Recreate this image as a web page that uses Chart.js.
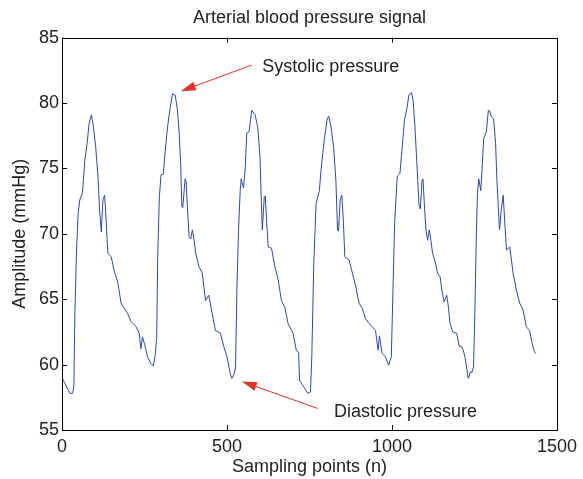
<!DOCTYPE html>
<html>
<head>
<meta charset="utf-8">
<script src="https://cdn.jsdelivr.net/npm/chart.js@4.4.1/dist/chart.umd.min.js"></script>
<style>
  html, body { margin: 0; padding: 0; background: #fff; }
  #wrap { width: 583px; height: 479px; position: relative; }
</style>
</head>
<body>
<div id="wrap"><canvas id="c"></canvas></div>
<script>
// ---- Data ----
const chartTitle = 'Arterial blood pressure signal';
const xAxisLabel = 'Sampling points (n)';
const yAxisLabel = 'Amplitude (mmHg)';
const xTicks = [0, 500, 1000, 1500];
const yTicks = [55, 60, 65, 70, 75, 80, 85];

const sampleIdx = [
  0, 8, 16, 24, 32, 36, 39, 44, 49, 54, 62, 69, 76, 82, 89, 94, 102, 109, 114, 119,
  124, 129, 132, 139, 149, 159, 169, 179, 189, 199, 209, 224, 234, 239, 244, 252, 259, 269, 277, 283,
  287, 290, 295, 300, 307, 313, 320, 327, 335, 343, 350, 355, 360, 363, 366, 373, 376, 380, 385, 390,
  395, 400, 405, 415, 425, 435, 445, 455, 465, 480, 490, 500, 510, 515, 522, 526, 530, 535, 540, 543,
  550, 555, 560, 567, 575, 585, 593, 600, 603, 607, 613, 616, 620, 625, 635, 645, 655, 665, 675, 685,
  700, 710, 717, 720, 730, 745, 753, 757, 763, 770, 780, 785, 795, 803, 808, 815, 823, 830, 835, 838,
  843, 848, 853, 857, 870, 880, 890, 900, 910, 920, 930, 940, 950, 958, 962, 966, 970, 980, 990, 998,
  1003, 1008, 1016, 1024, 1031, 1038, 1046, 1051, 1059, 1064, 1069, 1074, 1078, 1082, 1086, 1091, 1094, 1098, 1103, 1108,
  1113, 1118, 1123, 1131, 1138, 1146, 1151, 1158, 1166, 1171, 1176, 1184, 1196, 1204, 1210, 1216, 1221, 1226, 1231, 1238,
  1242, 1247, 1250, 1253, 1256, 1259, 1263, 1269, 1274, 1278, 1286, 1292, 1296, 1301, 1308, 1314, 1318, 1322, 1326, 1331,
  1337, 1342, 1347, 1357, 1367, 1377, 1387, 1397, 1407, 1417, 1425, 1432, 1437
];
const amplitude = [
  59.0, 58.6, 58.2, 57.8, 57.8, 58.3, 63.9, 68.75, 71.6, 72.6, 73.1, 75.6, 76.9, 78.4, 79.1, 78.4, 76.65, 74.4, 71.8, 70.15,
  72.6, 72.95, 71.8, 68.5, 68.25, 67.1, 66.3, 64.7, 64.3, 63.9, 63.3, 62.9, 62.4, 61.2, 62.1, 61.4, 60.6, 60.1, 59.9, 60.85,
  62.1, 68.25, 72.8, 74.5, 74.55, 76.4, 78.2, 79.5, 80.7, 80.6, 79.45, 77.7, 75.1, 72.1, 72.0, 74.2, 74.0, 72.1, 69.8, 69.6,
  70.3, 69.6, 68.5, 67.5, 67.0, 64.9, 65.3, 63.9, 62.6, 62.4, 61.4, 60.6, 59.3, 58.95, 59.3, 59.8, 65.7, 70.3, 73.3, 74.2,
  73.5, 74.9, 77.7, 77.8, 79.45, 79.1, 78.2, 75.9, 73.3, 70.3, 72.8, 72.9, 71.0, 69.0, 68.9, 67.5, 66.5, 64.9, 64.4, 63.15,
  62.4, 61.1, 60.9, 58.8, 58.4, 57.8, 57.9, 60.6, 67.7, 72.3, 73.3, 74.9, 77.2, 78.7, 79.0, 78.2, 76.65, 74.1, 70.3, 70.2,
  72.6, 72.95, 70.8, 68.25, 68.0, 67.0, 66.0, 64.7, 64.3, 63.5, 63.15, 62.9, 62.6, 61.1, 62.2, 61.5, 60.85, 60.6, 59.95, 60.6,
  65.7, 70.8, 74.4, 74.6, 76.65, 78.7, 79.7, 80.6, 80.8, 80.2, 78.4, 76.1, 74.1, 72.2, 71.9, 74.1, 74.2, 72.3, 70.3, 69.5,
  70.3, 69.5, 68.5, 67.85, 67.0, 66.7, 65.7, 64.8, 65.3, 64.4, 63.15, 62.5, 62.4, 61.4, 61.4, 61.1, 60.6, 59.8, 58.95, 59.45,
  59.4, 59.8, 62.6, 66.5, 70.3, 73.1, 74.2, 73.3, 75.4, 77.3, 77.8, 79.45, 79.4, 78.95, 78.8, 76.9, 74.1, 72.1, 70.3, 71.8,
  72.95, 70.8, 68.75, 69.0, 67.0, 65.7, 64.7, 64.2, 62.9, 62.6, 61.6, 60.95, 60.85
];

// Annotations (data units): label position, arrow tail, arrow tip
const annoText = ['Systolic pressure', 'Diastolic pressure'];
const annoTextPos = [[607, 82.75], [824, 56.37]];
const annoArrowFrom = [[575, 82.9], [775, 56.65]];
const annoArrowTo = [[360, 80.9], [545, 58.7]];

// ---- Chart ----
const FONT = '"Liberation Sans", Arial, Helvetica, sans-serif';
const TEXT = '#222222';
const LINE = '#2b4ba8';
const RED = '#e2322b';

const points = sampleIdx.map((n, i) => ({ x: n, y: amplitude[i] }));

const boxPlugin = {
  id: 'boxAndTicks',
  afterDatasetsDraw(chart) {
    const { ctx, chartArea: a, scales: { x, y } } = chart;
    ctx.save();
    ctx.strokeStyle = '#000';
    ctx.lineWidth = 1;
    ctx.strokeRect(Math.round(a.left) + 0.5, Math.round(a.top) + 0.5,
                   Math.round(a.right - a.left), Math.round(a.bottom - a.top));
    const tl = 5;
    ctx.beginPath();
    xTicks.forEach(v => {
      const px = Math.round(x.getPixelForValue(v)) + 0.5;
      ctx.moveTo(px, a.bottom); ctx.lineTo(px, a.bottom - tl);
      ctx.moveTo(px, a.top); ctx.lineTo(px, a.top + tl);
    });
    yTicks.forEach(v => {
      const py = Math.round(y.getPixelForValue(v)) + 0.5;
      ctx.moveTo(a.left, py); ctx.lineTo(a.left + tl, py);
      ctx.moveTo(a.right, py); ctx.lineTo(a.right - tl, py);
    });
    ctx.stroke();

    // annotations
    ctx.font = '18px ' + FONT;
    ctx.textBaseline = 'middle';
    ctx.textAlign = 'left';
    annoText.forEach((t, i) => {
      ctx.fillStyle = TEXT;
      ctx.fillText(t, x.getPixelForValue(annoTextPos[i][0]), y.getPixelForValue(annoTextPos[i][1]));
      const x0 = x.getPixelForValue(annoArrowFrom[i][0]);
      const y0 = y.getPixelForValue(annoArrowFrom[i][1]);
      const x1 = x.getPixelForValue(annoArrowTo[i][0]);
      const y1 = y.getPixelForValue(annoArrowTo[i][1]);
      const ang = Math.atan2(y1 - y0, x1 - x0);
      const hl = 15, hw = 4.5;
      const bx = x1 - hl * Math.cos(ang), by = y1 - hl * Math.sin(ang);
      ctx.strokeStyle = RED;
      ctx.fillStyle = RED;
      ctx.lineWidth = 1;
      ctx.beginPath();
      ctx.moveTo(x0, y0); ctx.lineTo(bx, by);
      ctx.stroke();
      ctx.beginPath();
      ctx.moveTo(x1, y1);
      ctx.lineTo(bx + hw * Math.sin(ang), by - hw * Math.cos(ang));
      ctx.lineTo(bx - hw * Math.sin(ang), by + hw * Math.cos(ang));
      ctx.closePath();
      ctx.fill();
    });
    ctx.restore();
  }
};

new Chart(document.getElementById('c'), {
  type: 'line',
  data: {
    datasets: [{
      data: points,
      borderColor: LINE,
      borderWidth: 1,
      pointRadius: 0,
      tension: 0,
      fill: false
    }]
  },
  options: {
    responsive: true,
    maintainAspectRatio: false,
    animation: false,
    layout: { padding: { left: 0, right: 22, top: 0, bottom: 0 } },
    plugins: {
      legend: { display: false },
      tooltip: { enabled: false },
      title: {
        display: true,
        fullSize: false,
        text: chartTitle,
        color: TEXT,
        font: { family: FONT, size: 18, weight: 'normal', lineHeight: 1.2 },
        padding: { top: 7, bottom: 9 }
      }
    },
    scales: {
      x: {
        type: 'linear',
        min: 0, max: 1500,
        afterBuildTicks: s => { s.ticks = xTicks.map(v => ({ value: v })); },
        afterFit: s => { s.height = 49; },
        grid: { display: false, drawTicks: false },
        border: { display: false },
        ticks: { color: TEXT, padding: 6, maxRotation: 0, font: { family: FONT, size: 18 },
                 callback: v => String(v) },
        title: { display: true, text: xAxisLabel, color: TEXT, padding: { top: 0, bottom: 1 },
                 font: { family: FONT, size: 18, lineHeight: 1.2 } }
      },
      y: {
        type: 'linear',
        min: 55, max: 85,
        afterBuildTicks: s => { s.ticks = yTicks.map(v => ({ value: v })); },
        afterFit: s => { s.width = 62; },
        grid: { display: false, drawTicks: false },
        border: { display: false },
        ticks: { color: TEXT, padding: 3, font: { family: FONT, size: 18 },
                 callback: v => String(v) },
        title: { display: true, text: yAxisLabel, color: TEXT, padding: { top: 9, bottom: 0 },
                 font: { family: FONT, size: 18, lineHeight: 1.2 } }
      }
    }
  },
  plugins: [boxPlugin]
});
</script>
</body>
</html>
